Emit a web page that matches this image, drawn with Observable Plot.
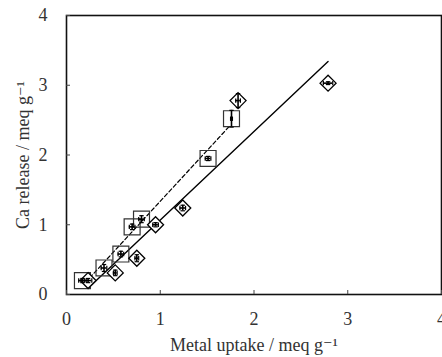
<!DOCTYPE html>
<html>
<head>
<meta charset="utf-8">
<script src="https://cdn.jsdelivr.net/npm/d3@7"></script>
<script src="https://cdn.jsdelivr.net/npm/@observablehq/plot@0.6"></script>
<style>
  html, body { margin: 0; padding: 0; background: #fff; }
  #chart svg { display: block; }
  #chart svg text {
    font-family: "Liberation Serif", "DejaVu Serif", "Times New Roman", serif !important;
    font-variant: normal !important;
  }
</style>
</head>
<body>
<div id="chart"></div>
<script>
// Square series (dashed fit)
const sqX    = [0.17, 0.40, 0.58, 0.70, 0.80, 1.51, 1.76];
const sqY    = [0.20, 0.38, 0.58, 0.97, 1.08, 1.95, 2.52];
const sqXerr = [0.04, 0.03, 0.03, 0.03, 0.03, 0.03, 0.01];
const sqYerr = [0.03, 0.05, 0.04, 0.04, 0.05, 0.03, 0.12];
// Diamond series (solid fit)
const diX    = [0.23, 0.52, 0.75, 0.95, 1.24, 1.83, 2.79];
const diY    = [0.20, 0.31, 0.52, 1.00, 1.24, 2.78, 3.03];
const diXerr = [0.04, 0.02, 0.02, 0.03, 0.03, 0.025, 0.05];
const diYerr = [0.03, 0.04, 0.05, 0.03, 0.04, 0.10, 0.02];
// Fit lines
const dashLineX  = [0.20, 1.75];
const dashLineY  = [0.17, 2.43];
const solidLineX = [0.23, 2.79];
const solidLineY = [0.09, 3.34];
// Ticks
const xTicks = [0, 1, 2, 3, 4];
const yTicks = [0, 1, 2, 3, 4];
const xLabel = "Metal uptake / meq g\u207B\u00B9";
const yLabel = "Ca release / meq g\u207B\u00B9";

const squares  = sqX.map((x, i) => ({x, y: sqY[i], ex: sqXerr[i], ey: sqYerr[i]}));
const diamonds = diX.map((x, i) => ({x, y: diY[i], ex: diXerr[i], ey: diYerr[i]}));
const points = [...squares, ...diamonds];
const dashLine  = dashLineX.map((x, i) => ({x, y: dashLineY[i]}));
const solidLine = solidLineX.map((x, i) => ({x, y: solidLineY[i]}));

const hCap = {draw(ctx, size) { const r = Math.sqrt(size / Math.PI); ctx.moveTo(-r, 0); ctx.lineTo(r, 0); }};
const vCap = {draw(ctx, size) { const r = Math.sqrt(size / Math.PI); ctx.moveTo(0, -r); ctx.lineTo(0, r); }};

const serif = "Liberation Serif, DejaVu Serif, serif";

const chart = Plot.plot({
  width: 442,
  height: 357,
  marginLeft: 66,
  marginRight: 1,
  marginTop: 15,
  marginBottom: 63,
  style: {fontSize: "18px", fontFamily: serif, color: "#333", background: "#fff"},
  x: {domain: [0, 4]},
  y: {domain: [0, 4]},
  marks: [
    Plot.line(solidLine, {x: "x", y: "y", stroke: "#000", strokeWidth: 1.4}),
    Plot.line(dashLine, {x: "x", y: "y", stroke: "#000", strokeWidth: 1.2, strokeDasharray: "4,2.5"}),
    Plot.dot(squares, {x: "x", y: "y", symbol: "square", r: 9, fill: "#fff", fillOpacity: 0.0, stroke: "#333", strokeWidth: 1.2}),
    Plot.dot(diamonds, {x: "x", y: "y", symbol: "diamond2", r: 7.2, fill: "#fff", stroke: "#000", strokeWidth: 1.3}),
    // error bars
    Plot.ruleX(points, {x: "x", y1: d => d.y - d.ey, y2: d => d.y + d.ey, stroke: "#000", strokeWidth: 1.6}),
    Plot.ruleY(points, {y: "y", x1: d => d.x - d.ex, x2: d => d.x + d.ex, stroke: "#000", strokeWidth: 1.6}),
    Plot.dot(points, {x: "x", y: d => d.y + d.ey, symbol: hCap, r: 2.2, stroke: "#000", strokeWidth: 1.2}),
    Plot.dot(points, {x: "x", y: d => d.y - d.ey, symbol: hCap, r: 2.2, stroke: "#000", strokeWidth: 1.2}),
    Plot.dot(points, {x: d => d.x + d.ex, y: "y", symbol: vCap, r: 2.2, stroke: "#000", strokeWidth: 1.2}),
    Plot.dot(points, {x: d => d.x - d.ex, y: "y", symbol: vCap, r: 2.2, stroke: "#000", strokeWidth: 1.2}),
    Plot.frame({stroke: "#111", strokeWidth: 1.6}),
    Plot.axisX({ticks: xTicks, tickSize: -4, tickPadding: 22, tickFormat: d => String(d), fontSize: 18, label: xLabel, labelAnchor: "center", labelArrow: "none", labelOffset: 56, stroke: "#444"}),
    Plot.axisY({ticks: yTicks, tickSize: -4, tickPadding: 23, tickFormat: d => String(d), fontSize: 18, label: yLabel, labelAnchor: "center", labelArrow: "none", labelOffset: 50, stroke: "#444"})
  ]
});
document.getElementById("chart").appendChild(chart);
</script>
</body>
</html>
